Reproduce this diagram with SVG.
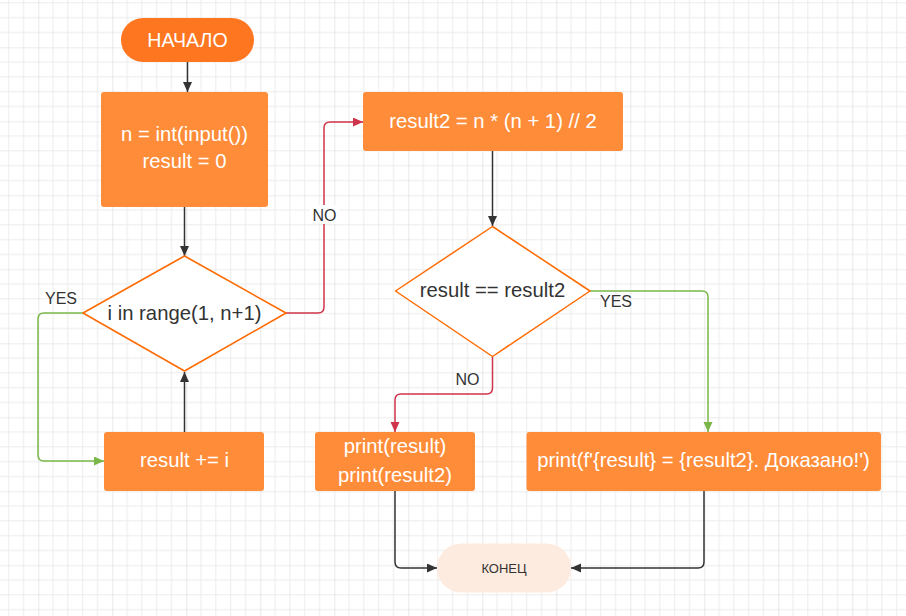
<svg xmlns="http://www.w3.org/2000/svg" width="906" height="616" viewBox="0 0 906 616">
<style>
  .term{fill:#FF7621}
  .box{fill:#FF8C38}
  .dia{fill:#FFFFFF;stroke:#FF6A00;stroke-width:1.5;stroke-linejoin:round}
  .wt{font-family:"Liberation Sans",Arial,sans-serif;font-size:20.3px;fill:#FFFFFF;text-anchor:middle}
  .dt{font-family:"Liberation Sans",Arial,sans-serif;font-size:20.3px;fill:#333333;text-anchor:middle}
  .lbl{font-family:"Liberation Sans",Arial,sans-serif;font-size:16px;fill:#333333;text-anchor:middle}
  .c{fill:none;stroke-width:1.5}
  .k{stroke:#333333}
  .g{stroke:#7AB648}
  .r{stroke:#D0344A}
</style>
<defs>
  <pattern id="grid" x="38.3" y="47.3" width="74" height="74" patternUnits="userSpaceOnUse">
    <path d="M14.8 0V74M29.6 0V74M44.4 0V74M59.2 0V74M0 14.8H74M0 29.6H74M0 44.4H74M0 59.2H74" stroke="#EBEBEB" stroke-width="1" fill="none"/>
    <path d="M0 0V74M0 0H74" stroke="#DADADA" stroke-width="1.2" fill="none"/>
  </pattern>
  <marker id="ak" markerUnits="userSpaceOnUse" markerWidth="12" markerHeight="10" refX="10" refY="4.5" orient="auto"><path d="M0 0L10 4.5L0 9z" fill="#333333"/></marker>
  <marker id="ag" markerUnits="userSpaceOnUse" markerWidth="12" markerHeight="10" refX="10" refY="4.5" orient="auto"><path d="M0 0L10 4.5L0 9z" fill="#7AB648"/></marker>
  <marker id="ar" markerUnits="userSpaceOnUse" markerWidth="12" markerHeight="10" refX="10" refY="4.5" orient="auto"><path d="M0 0L10 4.5L0 9z" fill="#D0344A"/></marker>
</defs>
<rect width="906" height="616" fill="#FFFFFF"/>
<rect width="906" height="616" fill="url(#grid)"/>

<g id="connectors">
  <path class="c k" d="M187.5 62V92" marker-end="url(#ak)"/>
  <path class="c k" d="M184.5 207V256" marker-end="url(#ak)"/>
  <path class="c g" d="M83 313H44Q38 313 38 319V455Q38 461 44 461H104" marker-end="url(#ag)"/>
  <path class="c k" d="M184.5 432V372" marker-end="url(#ak)"/>
  <path class="c r" d="M286 313H318Q324 313 324 307V128Q324 122 330 122H363" marker-end="url(#ar)"/>
  <path class="c k" d="M492.5 151V226" marker-end="url(#ak)"/>
  <path class="c g" d="M590 291H702Q708 291 708 297V432" marker-end="url(#ag)"/>
  <path class="c r" d="M492.5 357V388Q492.5 394 486.5 394H401Q395 394 395 400V432" marker-end="url(#ar)"/>
  <path class="c k" d="M395 491V562Q395 568 401 568H437" marker-end="url(#ak)"/>
  <path class="c k" d="M704 491V562Q704 568 698 568H571" marker-end="url(#ak)"/>
  <text class="lbl" x="61" y="304">YES</text>
  <rect x="310" y="205" width="29" height="19" fill="#FFFFFF"/>
  <text class="lbl" x="324.5" y="221">NO</text>
  <text class="lbl" x="616" y="307">YES</text>
  <text class="lbl" x="467.5" y="385">NO</text>
</g>

<g id="start">
  <rect class="term" x="121" y="18" width="133" height="44" rx="22"/>
  <text class="wt" x="187.5" y="46.5" style="font-size:19.6px">НАЧАЛО</text>
</g>
<g id="init">
  <rect class="box" x="101" y="92" width="167" height="115" rx="3"/>
  <text class="wt" x="184.5" y="141">n = int(input())</text>
  <text class="wt" x="184.5" y="168">result = 0</text>
</g>
<g id="loop">
  <path class="dia" d="M184.5 256L286 313L184.5 371L83 313Z"/>
  <text class="dt" x="184.5" y="319.5">i in range(1, n+1)</text>
</g>
<g id="accumulate">
  <rect class="box" x="104" y="432" width="160" height="59" rx="3"/>
  <text class="wt" x="184.5" y="467">result += i</text>
</g>
<g id="formula">
  <rect class="box" x="363" y="92" width="260" height="59" rx="3"/>
  <text class="wt" x="493" y="128">result2 = n * (n + 1) // 2</text>
</g>
<g id="compare">
  <path class="dia" d="M492.5 226.5L590 291L492.5 356.5L395.5 291Z"/>
  <text class="dt" x="492.5" y="297">result == result2</text>
</g>
<g id="printboth">
  <rect class="box" x="315" y="432" width="160" height="59" rx="3"/>
  <text class="wt" x="395" y="453">print(result)</text>
  <text class="wt" x="395" y="481.5">print(result2)</text>
</g>
<g id="proved">
  <rect class="box" x="526.5" y="432" width="354.5" height="59" rx="3"/>
  <text class="wt" x="703.5" y="467">print(f'{result} = {result2}. Доказано!')</text>
</g>
<g id="end">
  <rect x="437" y="543.5" width="134" height="49" rx="24.5" fill="#FDEBDF"/>
  <text x="504" y="572.5" style="font-family:'Liberation Sans',Arial,sans-serif;font-size:13px;fill:#333333;text-anchor:middle">КОНЕЦ</text>
</g>
</svg>
